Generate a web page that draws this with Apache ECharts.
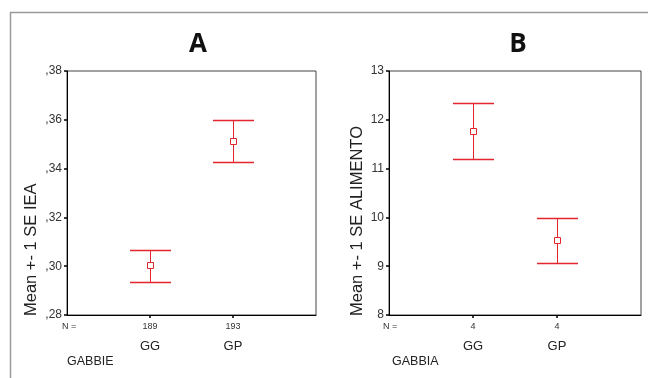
<!DOCTYPE html>
<html><head><meta charset="utf-8">
<script src="https://cdn.jsdelivr.net/npm/echarts@6/dist/echarts.min.js"></script>
<style>html,body{margin:0;padding:0;background:#fff}#c{width:648px;height:378px}</style>
</head><body><div id="c"></div>
<script>
// ---- data ----
const groups = ['GG', 'GP'];
const xPos = [1, 2];
const nA = ['189', '193'];
const nB = ['4', '4'];
const meanA = [0.3003, 0.3515];
const lowA  = [0.2937, 0.3427];
const highA = [0.3068, 0.3598];
const meanB = [11.77, 9.54];
const lowB  = [11.19, 9.07];
const highB = [12.35, 9.99];
const yTicksA = [0.28, 0.30, 0.32, 0.34, 0.36, 0.38];
const yTicksB = [8, 9, 10, 11, 12, 13];

const RED = '#e3262e';
const FONT = '"Liberation Sans", Arial, sans-serif';

function rows(m, lo, hi) { return xPos.map((x, i) => [x, lo[i], hi[i], m[i]]); }

function renderErr(params, api) {
  const x = api.value(0);
  const pLo = api.coord([x, api.value(1)]);
  const pHi = api.coord([x, api.value(2)]);
  const pM = api.coord([x, api.value(3)]);
  const cx = Math.round(pLo[0]) + 0.5;
  const hw = 20.5;
  const yl = Math.round(pLo[1]) + 0.5, yh = Math.round(pHi[1]) + 0.5, ym = Math.round(pM[1]);
  const st = { stroke: RED, lineWidth: 1, fill: null };
  return { type: 'group', children: [
    { type: 'line', shape: { x1: cx, y1: yh, x2: cx, y2: yl }, style: st },
    { type: 'line', shape: { x1: cx - hw, y1: yh, x2: cx + hw, y2: yh }, style: { stroke: RED, lineWidth: 1.3 } },
    { type: 'line', shape: { x1: cx - hw, y1: yl, x2: cx + hw, y2: yl }, style: { stroke: RED, lineWidth: 1.3 } },
    { type: 'rect', shape: { x: cx - 3, y: ym - 2.5, width: 6, height: 6 }, style: { stroke: RED, lineWidth: 1, fill: '#fff' } }
  ]};
}

function yAxis(idx, ticks, fmt) {
  return {
    type: 'value', gridIndex: idx, min: ticks[0], max: ticks[ticks.length - 1],
    interval: ticks[1] - ticks[0],
    axisLine: { show: true, lineStyle: { color: '#000', width: 1 } },
    axisTick: { show: true, length: 3, lineStyle: { color: '#000', width: 1.5 } },
    splitLine: { show: false },
    axisLabel: { margin: 5, fontSize: 12, color: '#333', fontFamily: FONT, formatter: fmt }
  };
}
function xAxis(idx, ns) {
  return {
    type: 'value', gridIndex: idx, min: 0, max: 3, interval: 1,
    axisLine: { show: true, lineStyle: { color: '#000', width: 1 } },
    axisTick: { show: true, length: 3, customValues: xPos, lineStyle: { color: '#000', width: 1.5 } },
    splitLine: { show: false },
    axisLabel: {
      margin: 6, customValues: xPos, fontFamily: FONT, color: '#333',
      formatter: v => { const i = Math.round(v) - 1; return '{n|' + ns[i] + '}\n{c|' + groups[i] + '}'; },
      rich: {
        n: { fontSize: 9, lineHeight: 12, color: '#333', fontFamily: FONT },
        c: { fontSize: 13, lineHeight: 26, color: '#222', fontFamily: FONT }
      }
    }
  };
}

const chart = echarts.init(document.getElementById('c'), null, { renderer: 'canvas' });
chart.setOption({
  animation: false,
  backgroundColor: '#fff',
  title: [
    { text: 'A', left: 193, top: 27, textAlign: 'center',
      textStyle: { fontSize: 26, fontWeight: 'bold', fontFamily: '"Open Sans", sans-serif', color: '#111' } },
    { text: 'B', left: 513, top: 27, textAlign: 'center',
      textStyle: { fontSize: 26, fontWeight: 'bold', fontFamily: '"Open Sans", sans-serif', color: '#111' } }
  ],
  grid: [
    { left: 67, top: 71, width: 249, height: 244, show: true, borderColor: '#444', borderWidth: 1, backgroundColor: 'transparent' },
    { left: 389, top: 71, width: 252, height: 244, show: true, borderColor: '#444', borderWidth: 1, backgroundColor: 'transparent' }
  ],
  xAxis: [xAxis(0, nA), xAxis(1, nB)],
  yAxis: [
    yAxis(0, yTicksA, v => v.toFixed(2).replace(/^0\./, ',')),
    yAxis(1, yTicksB, v => String(Math.round(v)))
  ],
  series: [
    { type: 'custom', xAxisIndex: 0, yAxisIndex: 0, renderItem: renderErr, data: rows(meanA, lowA, highA), encode: { x: 0, y: [1, 2, 3] } },
    { type: 'custom', xAxisIndex: 1, yAxisIndex: 1, renderItem: renderErr, data: rows(meanB, lowB, highB), encode: { x: 0, y: [1, 2, 3] } }
  ],
  graphic: [
    { type: 'line', shape: { x1: 10, y1: 12.5, x2: 648, y2: 12.5 }, style: { stroke: '#9a9a9a', lineWidth: 1.5 } },
    { type: 'line', shape: { x1: 10.5, y1: 12, x2: 10.5, y2: 378 }, style: { stroke: '#9a9a9a', lineWidth: 1.5 } },
    { type: 'text', x: 31, y: 316, rotation: Math.PI / 2,
      style: { text: 'Mean +- 1 SE IEA', fontSize: 16.5, fontFamily: FONT, fill: '#222', align: 'left', verticalAlign: 'middle' } },
    { type: 'text', x: 357, y: 316, rotation: Math.PI / 2,
      style: { text: 'Mean +- 1 SE ALIMENTO', fontSize: 16.5, fontFamily: FONT, fill: '#222', align: 'left', verticalAlign: 'middle' } },
    { type: 'text', x: 62, y: 327, style: { text: 'N =', fontSize: 9, fontFamily: FONT, fill: '#333', verticalAlign: 'middle' } },
    { type: 'text', x: 383, y: 327, style: { text: 'N =', fontSize: 9, fontFamily: FONT, fill: '#333', verticalAlign: 'middle' } },
    { type: 'text', x: 67, y: 362, style: { text: 'GABBIE', fontSize: 12.5, fontFamily: FONT, fill: '#222', verticalAlign: 'middle' } },
    { type: 'text', x: 392, y: 362, style: { text: 'GABBIA', fontSize: 12.5, fontFamily: FONT, fill: '#222', verticalAlign: 'middle' } }
  ]
});
</script></body></html>
